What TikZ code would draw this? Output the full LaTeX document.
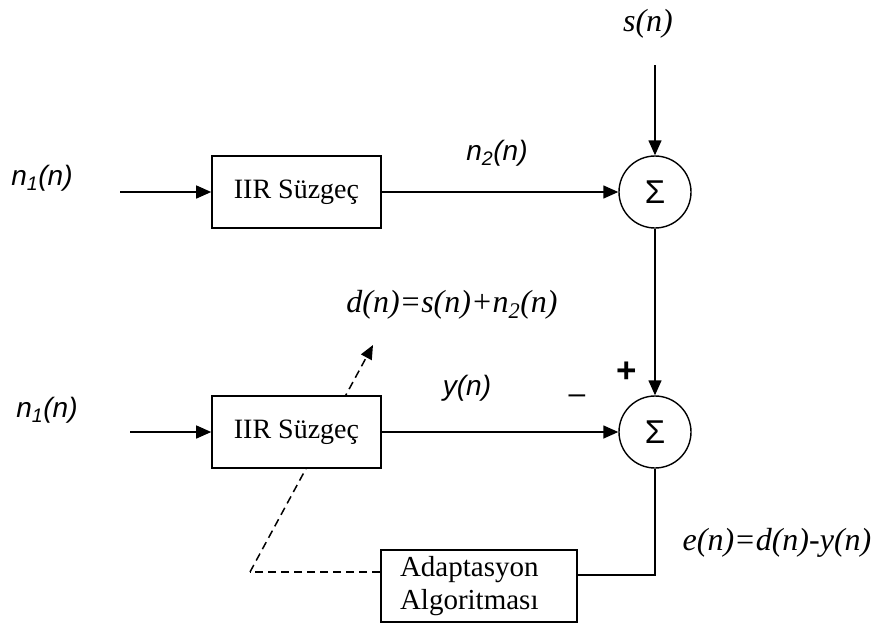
\documentclass[tikz,border=0pt]{standalone}
\usepackage{fontspec}
\setmainfont{Liberation Serif}
\newfontfamily\arialf{Liberation Sans}
\usetikzlibrary{arrows.meta,backgrounds}

\tikzset{
  filt/.style={draw, fill=white, line width=1.6pt, minimum width=169pt, minimum height=72pt,
    inner sep=0pt, font=\fontsize{28}{32}\selectfont},
  adbox/.style={draw, fill=white, line width=1.6pt, text width=158pt, inner xsep=19pt,
    minimum height=72pt, align=left, font=\fontsize{29}{33}\selectfont},
  sumc/.style={draw, circle, line width=1.4pt, minimum size=72pt, inner sep=0pt,
    font=\arialf\fontsize{33}{36}\selectfont},
  arr/.style={line width=1.4pt, -{Triangle[length=15pt,width=13pt]}},
  wire/.style={line width=1.4pt},
  dsh/.style={line width=1.5pt, dash pattern=on 8pt off 5pt},
  sanslab/.style={inner sep=0pt, font=\arialf\itshape\fontsize{28}{32}\selectfont},
  seriflab/.style={inner sep=0pt, font=\itshape\fontsize{32}{36}\selectfont},
}

\begin{document}
\begin{tikzpicture}[x=1pt,y=-1pt]
  \useasboundingbox (0,0) rectangle (873,625);

  % blocks
  \node[filt] (f1) at (296.5,192) {IIR Süzgeç};
  \node[filt] (f2) at (296.5,432) {IIR Süzgeç};
  \node[sumc] (s1) at (655,192) {Σ};
  \node[sumc] (s2) at (655,432) {Σ};
  \node[adbox] (ad) at (479,586) {Adaptasyon\\Algoritması};

  % free ends
  \coordinate (in1) at (120,192);
  \coordinate (in2) at (130,432);
  \coordinate (sin) at (655,65);
  \coordinate (dc) at (250,572);
  \coordinate (dtip) at (373,345);

  % signal paths
  \draw[arr] (in1) -- (f1.west);
  \draw[arr] (f1.east) -- (s1.west);
  \draw[arr] (sin) -- (s1.north);
  \draw[arr] (s1.south) -- (s2.north);
  \draw[arr] (in2) -- (f2.west);
  \draw[arr] (f2.east) -- (s2.west);
  \draw[wire] (s2.south) |- ([yshift=11pt]ad.east);

  % adaptation path, passing behind the filter block
  \begin{scope}[on background layer]
    \draw[dsh] ([yshift=14pt]ad.west) -- (dc);
    \draw[dsh, -{Triangle[length=14pt,width=12pt]}] (dc) -- (dtip);
  \end{scope}

  % labels
  \node[sanslab] (ln1a) at (42,178) {n\textsubscript{1}(n)};
  \node[sanslab] (ln1b) at (47,410) {n\textsubscript{1}(n)};
  \node[sanslab] (ln2) at (497,153) {n\textsubscript{2}(n)};
  \node[sanslab] (lyn) at (467,388) {y(n)};
  \node[seriflab] (lsn) at (648,24) {s(n)};
  \node[seriflab] (ldn) at (452,305) {d(n)=s(n)+n\textsubscript{2}(n)};
  \node[seriflab] (len) at (777,543) {e(n)=d(n)-y(n)};
  \node[inner sep=0pt, font=\arialf\bfseries\fontsize{35}{38}\selectfont] (lplus) at (627,372) {+};
  \node[inner sep=0pt, font=\arialf\fontsize{30}{34}\selectfont] (lminus) at (577,399) {–};
\end{tikzpicture}
\end{document}
